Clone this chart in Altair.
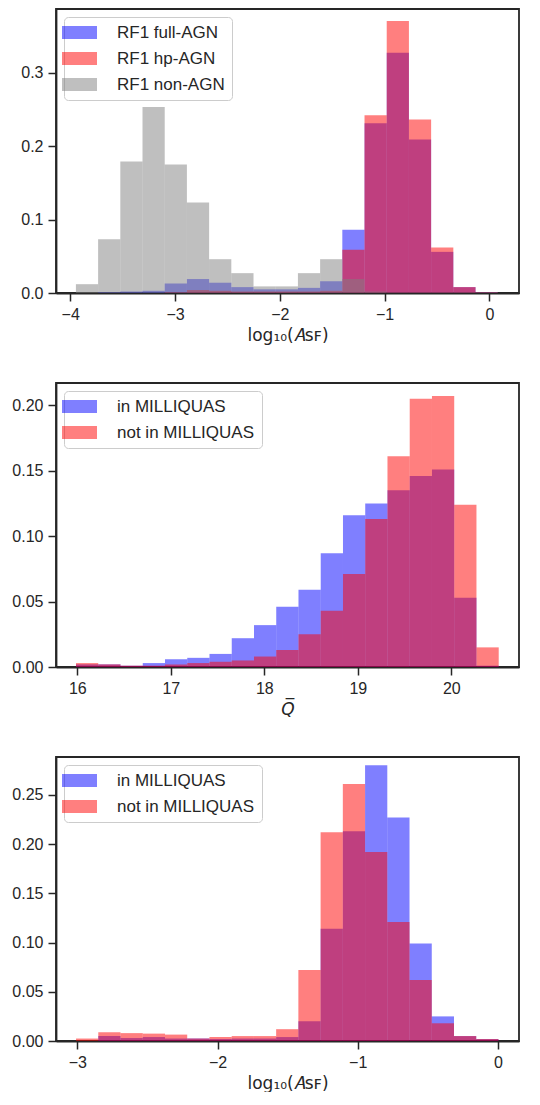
import altair as alt
import numpy as np
import pandas as pd

# ---------------- data ----------------
# Panel 1: log10(A_SF) for RF1 classes (shared bin edges)
p1_edge_lo, p1_edge_hi, p1_nbins = -3.946, 0.080, 19
p1_full_agn = [0.0, 0.001, 0.002, 0.003, 0.013, 0.019, 0.014, 0.008, 0.005, 0.005,
               0.007, 0.016, 0.086, 0.231, 0.327, 0.209, 0.056, 0.008, 0.001]
p1_hp_agn = [0.0, 0.0, 0.0, 0.0, 0.001, 0.004, 0.003, 0.002, 0.002, 0.002,
             0.002, 0.003, 0.059, 0.242, 0.370, 0.236, 0.062, 0.008, 0.001]
p1_non_agn = [0.012, 0.073, 0.179, 0.253, 0.175, 0.123, 0.046, 0.027, 0.009, 0.009,
              0.027, 0.046, 0.019, 0.002, 0.001, 0.001, 0.001, 0.001, 0.001]

# Panel 2: mean magnitude Q
p2_edge_lo, p2_edge_hi, p2_nbins = 15.986, 20.507, 19
p2_in_mq = [0.002, 0.002, 0.001, 0.003, 0.006, 0.007, 0.010, 0.022, 0.032, 0.046,
            0.059, 0.087, 0.116, 0.125, 0.135, 0.146, 0.151, 0.053, 0.001]
p2_not_mq = [0.003, 0.002, 0.001, 0.001, 0.002, 0.003, 0.004, 0.005, 0.008, 0.013,
             0.025, 0.043, 0.071, 0.113, 0.161, 0.205, 0.207, 0.124, 0.015]

# Panel 3: log10(A_SF) in / not in MILLIQUAS
p3_edge_lo, p3_edge_hi, p3_nbins = -3.009, 0.0035, 19
p3_in_mq = [0.0, 0.005, 0.003, 0.004, 0.0025, 0.0025, 0.002, 0.0025, 0.0025, 0.004,
            0.020, 0.114, 0.213, 0.280, 0.227, 0.099, 0.025, 0.005, 0.002]
p3_not_mq = [0.0025, 0.009, 0.008, 0.0075, 0.0065, 0.0025, 0.004, 0.005, 0.005, 0.012,
             0.072, 0.212, 0.261, 0.192, 0.121, 0.062, 0.018, 0.005, 0.002]

labels_p1 = ["RF1 full-AGN", "RF1 hp-AGN", "RF1 non-AGN"]
labels_mq = ["in MILLIQUAS", "not in MILLIQUAS"]
colors_p1 = ["#0000ff", "#ff0000", "#808080"]
colors_mq = ["#0000ff", "#ff0000"]

p1_xticks = [-4, -3, -2, -1, 0]
p1_yticks = [0.0, 0.1, 0.2, 0.3]
p2_xticks = [16, 17, 18, 19, 20]
p2_yticks = [0.0, 0.05, 0.10, 0.15, 0.20]
p3_xticks = [-3, -2, -1, 0]
p3_yticks = [0.0, 0.05, 0.10, 0.15, 0.20, 0.25]

TITLE_ASF = "log\u2081\u2080(\U0001D434\uA731\uA730)"
TITLE_Q = "Q\u0305"

W, H = 463, 284
FONT = "Liberation Sans"


def hist_df(lo, hi, n, values, label):
    edges = np.linspace(lo, hi, n + 1)
    return pd.DataFrame({"lo": edges[:-1], "hi": edges[1:], "value": values,
                         "base": 0.0, "series": label})


def panel(series, labels, colors, xdom, ydom, xticks, yticks, xfmt, yfmt,
          xtitle, title_italic=False):
    layers = []
    for i, (df, lab) in enumerate(zip(series, labels)):
        color = alt.Color(
            "series:N",
            scale=alt.Scale(domain=labels, range=colors),
            title=None,
            legend=alt.Legend(
                orient="top-left", offset=8, padding=7,
                fillColor="white", strokeColor="#cccccc", cornerRadius=4,
                symbolType="M-2.5,-0.93L2.5,-0.93L2.5,0.93L-2.5,0.93Z",
                symbolSize=196, symbolStrokeWidth=0, symbolOpacity=0.5,
                labelFontSize=17, labelFont=FONT, labelColor="#262626",
                labelOffset=29, rowPadding=8,
            ),
        )
        xaxis = alt.Axis(values=xticks, format=xfmt, title=xtitle,
                         titleFontStyle="italic" if title_italic else "normal")
        ch = alt.Chart(df).mark_rect(opacity=0.5, strokeWidth=0).encode(
            x=alt.X("lo:Q", scale=alt.Scale(domain=xdom, nice=False, zero=False),
                    axis=xaxis),
            x2="hi:Q",
            y=alt.Y("value:Q", scale=alt.Scale(domain=ydom, nice=False),
                    axis=alt.Axis(values=yticks, format=yfmt, title=None)),
            y2="base:Q",
            color=color,
        )
        layers.append(ch)
    return alt.layer(*layers).properties(width=W, height=H)


c1 = panel(
    [hist_df(p1_edge_lo, p1_edge_hi, p1_nbins, v, l)
     for v, l in zip([p1_full_agn, p1_hp_agn, p1_non_agn], labels_p1)],
    labels_p1, colors_p1, [-4.136, 0.283], [0, 0.3865],
    p1_xticks, p1_yticks, "d", ".1f", TITLE_ASF)

c2 = panel(
    [hist_df(p2_edge_lo, p2_edge_hi, p2_nbins, v, l)
     for v, l in zip([p2_in_mq, p2_not_mq], labels_mq)],
    labels_mq, colors_mq, [15.772, 20.724], [0, 0.217],
    p2_xticks, p2_yticks, "d", ".2f", TITLE_Q, title_italic=True)

c3 = panel(
    [hist_df(p3_edge_lo, p3_edge_hi, p3_nbins, v, l)
     for v, l in zip([p3_in_mq, p3_not_mq], labels_mq)],
    labels_mq, colors_mq, [-3.152, 0.150], [0, 0.2885],
    p3_xticks, p3_yticks, "d", ".2f", TITLE_ASF)

chart = alt.vconcat(c1, c2, c3, spacing=38).resolve_scale(
    color="independent"
).properties(
    padding={"left": 2, "top": 0, "right": 0, "bottom": 0},
    background="white",
).configure_view(
    stroke="#262626", strokeWidth=1.8
).configure_axis(
    grid=False, domainColor="#262626", domainWidth=1.8,
    tickColor="#262626", tickWidth=1.5, tickSize=8,
    labelFont=FONT, labelFontSize=16, labelColor="#262626", labelPadding=5,
    titleFont="DejaVu Sans", titleFontSize=17, titleColor="#262626",
    titleFontWeight="normal", titlePadding=5,
)

chart.save("out.html", embed_options={"renderer": "svg", "actions": False})
